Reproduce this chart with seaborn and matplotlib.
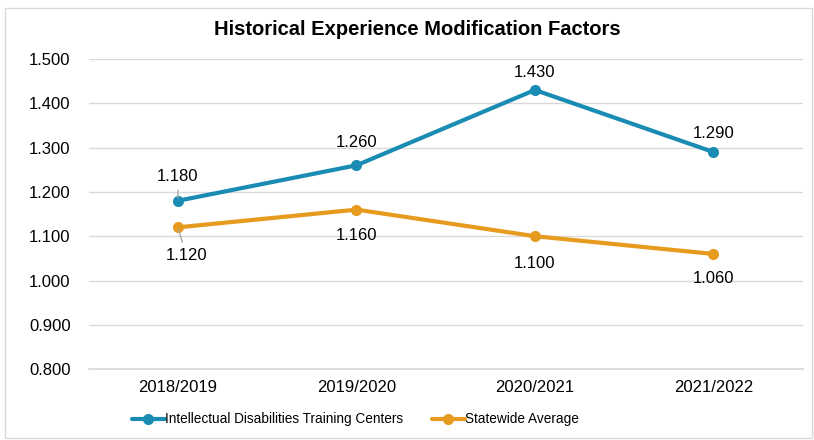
import matplotlib
matplotlib.use("Agg")
import matplotlib.pyplot as plt
import seaborn as sns
import pandas as pd
from matplotlib.patches import Rectangle

sns.set_theme(style="whitegrid")
plt.rcParams['font.family'] = ['Liberation Sans', 'DejaVu Sans']
plt.rcParams['text.color'] = 'black'

years = ["2018/2019", "2019/2020", "2020/2021", "2021/2022"]
idtc = [1.180, 1.260, 1.430, 1.290]
statewide = [1.120, 1.160, 1.100, 1.060]
series_names = ["Intellectual Disabilities Training Centers", "Statewide Average"]
colors = ["#1A8CB3", "#E69B1E"]

df = pd.DataFrame({
    "Year": years * 2,
    "Value": idtc + statewide,
    "Series": [series_names[0]] * 4 + [series_names[1]] * 4,
})

fig = plt.figure(figsize=(8.14, 4.4), dpi=100)
ax = fig.add_axes([0.109, 0.161, 0.877, 0.705])

sns.lineplot(data=df, x="Year", y="Value", hue="Series", palette=colors,
             marker="o", markersize=8, markeredgewidth=0, linewidth=3, ax=ax,
             sort=False)

ax.set_xlim(-0.5, 3.5)
ax.set_ylim(0.8, 1.5)
ax.set_yticks([0.8 + 0.1 * i for i in range(8)])
ax.yaxis.set_major_formatter(matplotlib.ticker.FormatStrFormatter("%.3f"))
ax.grid(axis="y", color="#D9D9D9", linewidth=1)
ax.grid(axis="x", visible=False)
for s in ["top", "right", "left"]:
    ax.spines[s].set_visible(False)
ax.spines["bottom"].set_color("#D9D9D9")
ax.tick_params(axis="both", labelsize=12, colors="black", length=0)
ax.tick_params(axis="y", pad=13)
ax.tick_params(axis="x", pad=8)
ax.set_xlabel("")
ax.set_ylabel("")
ax.set_facecolor("white")

# data labels
offs_top = [(0, 12), (0, 11), (0, 7), (0, 8)]
offs_bot = [(6, -15), (0, -13), (0, -14), (0, -12)]
for i, v in enumerate(idtc):
    ax.annotate(f"{v:.3f}", (i, v), xytext=offs_top[i], textcoords="offset points",
                ha="center", va="bottom", fontsize=12,
                arrowprops=dict(arrowstyle="-", color="#A6A6A6", lw=1) if i == 0 else None)
for i, v in enumerate(statewide):
    ax.annotate(f"{v:.3f}", (i, v), xytext=offs_bot[i], textcoords="offset points",
                ha="center", va="top", fontsize=12,
                arrowprops=dict(arrowstyle="-", color="#A6A6A6", lw=1) if i == 0 else None)

fig.suptitle("Historical Experience Modification Factors", fontsize=14.5,
             fontweight="bold", x=0.513, y=0.955)

leg = ax.legend(loc="upper center", bbox_to_anchor=(0.374, -0.1), ncol=2,
                frameon=False, fontsize=9.8, handlelength=2.4, columnspacing=2.1,
                handletextpad=0.05)

fig.patches.append(Rectangle((0.006, 0.005), 0.991, 0.977, transform=fig.transFigure,
                             fill=False, edgecolor="#D9D9D9", linewidth=1))

fig.savefig("out.png", dpi=100, facecolor="white")
